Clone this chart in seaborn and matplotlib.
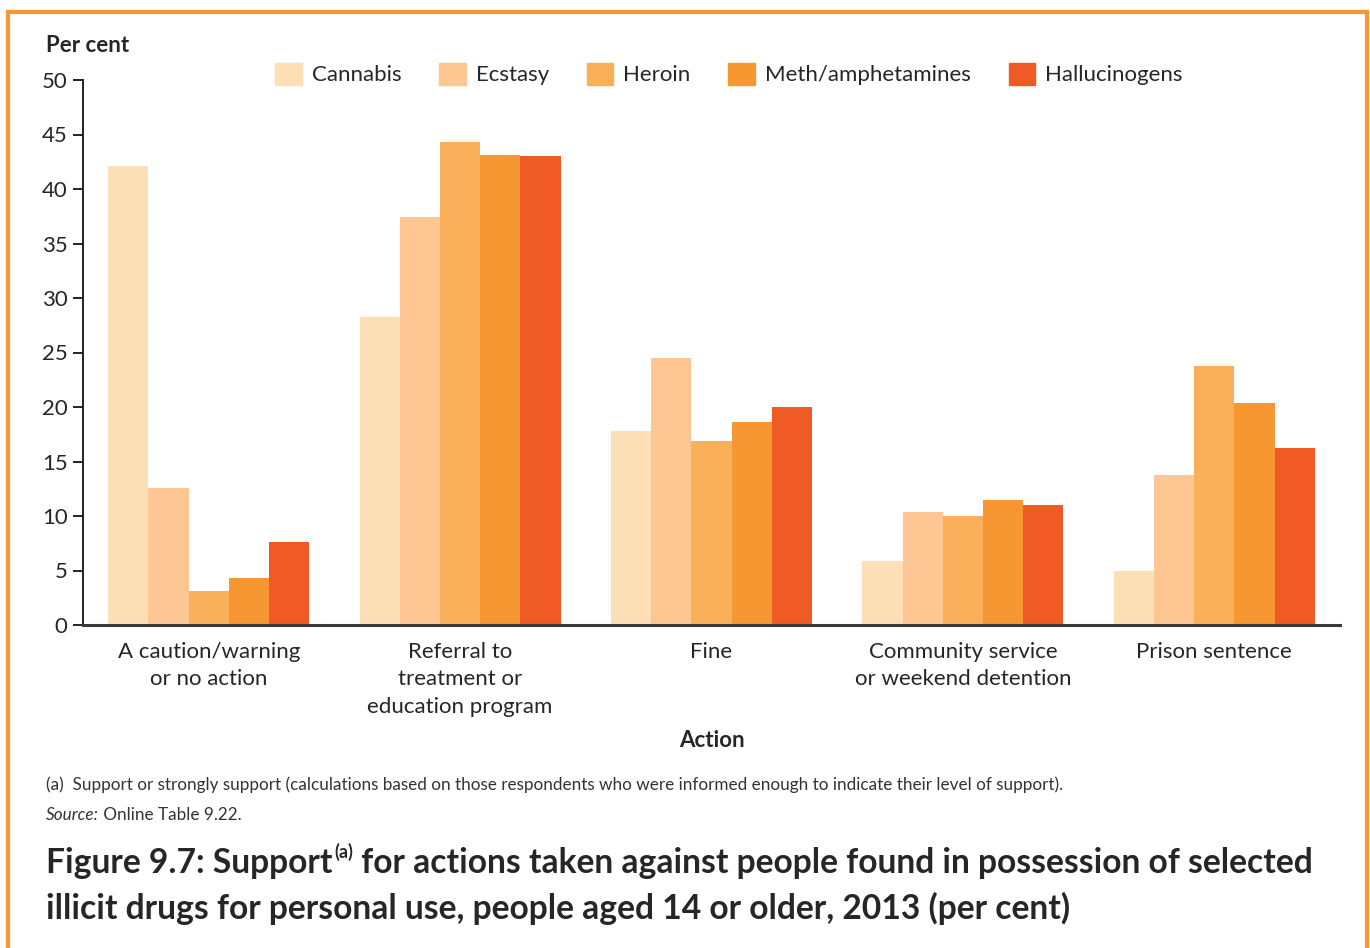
import seaborn as sns
import pandas as pd
import matplotlib.pyplot as plt
from matplotlib.patches import Rectangle

actions = ["A caution/warning\nor no action",
           "Referral to\ntreatment or\neducation program",
           "Fine",
           "Community service\nor weekend detention",
           "Prison sentence"]
drugs = ["Cannabis", "Ecstasy", "Heroin", "Meth/amphetamines", "Hallucinogens"]
cannabis = [42.1, 28.3, 17.8, 5.9, 5.0]
ecstasy = [12.6, 37.4, 24.5, 10.4, 13.8]
heroin = [3.1, 44.3, 16.9, 10.0, 23.8]
meth = [4.3, 43.1, 18.6, 11.5, 20.4]
hallucinogens = [7.6, 43.0, 20.0, 11.0, 16.2]
colors = ["#FDDFB6", "#FEC692", "#FAB05A", "#F79732", "#F05A24"]

rows = []
for drug, vals in zip(drugs, [cannabis, ecstasy, heroin, meth, hallucinogens]):
    for act, v in zip(actions, vals):
        rows.append({"Action": act, "Drug": drug, "Per cent": v})
df = pd.DataFrame(rows)

sns.set_style("white")
plt.rcParams['font.family'] = ['Lato', 'DejaVu Sans']

W, H = 1370, 948
fig = plt.figure(figsize=(W / 100, H / 100), dpi=100)
ax = fig.add_axes([83 / W, 1 - 625 / H, (1340 - 83) / W, (625 - 80) / H])

sns.barplot(data=df, x="Action", y="Per cent", hue="Drug", hue_order=drugs,
            order=actions, palette=colors, saturation=1, width=0.8,
            linewidth=0, ax=ax)

ax.set_ylim(0, 50)
ax.set_xlim(-0.5, 4.5)
ax.set_yticks(range(0, 51, 5))
ax.set_ylabel("")
ax.set_xlabel("Action", fontsize=16, fontweight="bold", labelpad=9)
ax.tick_params(axis="y", length=7, width=1.3, labelsize=16, pad=4, left=True, color="#111111")
ax.tick_params(axis="x", length=0, labelsize=16, pad=12)
for lbl in ax.get_xticklabels():
    lbl.set_linespacing(1.48)
for s in ["top", "right"]:
    ax.spines[s].set_visible(False)
ax.spines["left"].set_linewidth(1.3)
ax.spines["left"].set_color("#111111")
ax.spines["bottom"].set_linewidth(2.2)
ax.spines["bottom"].set_color("#3a3a3a")

ax.legend_.remove()
handles = [Rectangle((0, 0), 1, 1, color=c) for c in colors]
fig.legend(handles, drugs, loc="center", bbox_to_anchor=(729 / W, 1 - 74 / H),
           ncol=5, frameon=False, fontsize=16, handlelength=1.2, handleheight=1.2,
           handletextpad=0.45, columnspacing=1.7)

fig.text(46 / W, 1 - 45 / H, "Per cent", fontsize=16, fontweight="bold", va="center")

fig.text(46 / W, 1 - 785 / H,
         "(a)  Support or strongly support (calculations based on those respondents who were informed enough to indicate their level of support).",
         fontsize=12.3, color="#333333", va="center")
src = fig.text(46 / W, 1 - 815 / H, "Source:", fontsize=12.3, color="#333333",
               va="center", style="italic")
ax.annotate(" Online Table 9.22.", xy=(1, 0.5), xycoords=src, va="center",
            fontsize=12.3, color="#333333")

t1 = fig.text(46 / W, 1 - 879 / H, "Figure 9.7: Support", fontsize=24.2,
              fontweight="bold", va="bottom")
sup = ax.annotate("(a)", xy=(1, 1), xycoords=t1, va="top", ha="left",
                  fontsize=13, fontweight="bold", xytext=(1, 3),
                  textcoords="offset points")
ax.annotate(" for actions taken against people found in possession of selected",
            xy=(1, 0), xycoords=(sup, t1), va="bottom", ha="left",
            fontsize=24.2, fontweight="bold")
fig.text(46 / W, 1 - 925 / H,
         "illicit drugs for personal use, people aged 14 or older, 2013 (per cent)",
         fontsize=24.2, fontweight="bold", va="bottom")

frame = Rectangle((8 / W, -0.05), (1367 - 8) / W, 1 - 12 / H + 0.05,
                  transform=fig.transFigure, fill=False, edgecolor="#F7972F",
                  linewidth=3, clip_on=False)
fig.patches.append(frame)

fig.savefig("out.png", dpi=100)
